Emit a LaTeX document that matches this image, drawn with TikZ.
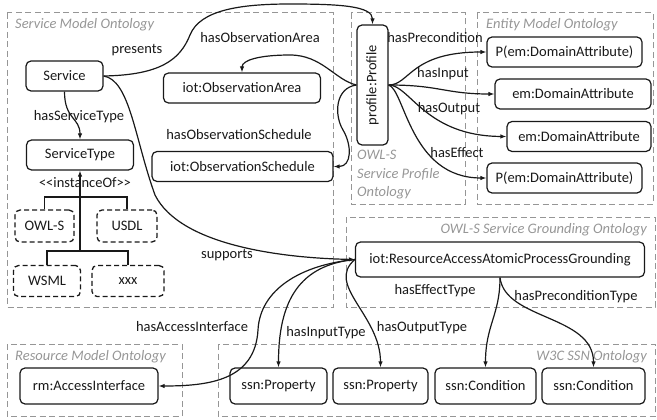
\documentclass[tikz,border=0pt]{standalone}
\usepackage{fontspec}
\setmainfont{Carlito}
\usetikzlibrary{arrows.meta}
\definecolor{groupgray}{RGB}{150,150,150}
\definecolor{ink}{RGB}{25,25,25}
\begin{document}
\begin{tikzpicture}[x=1pt,y=-1pt,
  font=\fontsize{14.5}{17}\selectfont, text=ink,
  box/.style={draw=ink, line width=1.2pt, rounded corners=5pt, inner sep=0pt, minimum height=30},
  dbox/.style={box, dashed, dash pattern=on 5pt off 3pt, line width=1.3pt},
  group/.style={draw=groupgray, line width=1pt, dash pattern=on 6pt off 3.5pt},
  gtitle/.style={text=groupgray, font=\fontsize{14.5}{17}\selectfont\itshape, inner sep=0pt},
  lbl/.style={inner sep=0pt},
  rel/.style={draw=ink, line width=1.2pt, -{Latex[length=6pt,width=4.5pt]}},
  tree/.style={draw=ink, line width=1.2pt}]
\useasboundingbox (0,0) rectangle (657,420);

% ontology groups
\draw[group] (7,13) rectangle (333,307);
\draw[group] (351,13) rectangle (465,204);
\draw[group] (477,13) rectangle (653,204);
\draw[group] (346,217) rectangle (655,307);
\draw[group] (7,344) rectangle (182,416);
\draw[group] (218,344) rectangle (655,416);

\node[gtitle, anchor=west] (tsm) at (15,25) {Service Model Ontology};
\node[gtitle, anchor=west] (tem) at (486,25) {Entity Model Ontology};
\node[gtitle, anchor=west] (tsp1) at (357,155) {OWL-S};
\node[gtitle, anchor=west] (tsp2) at (357,174) {Service Profile};
\node[gtitle, anchor=west] (tsp3) at (357,193) {Ontology};
\node[gtitle, anchor=east] (tsg) at (647,230) {OWL-S Service Grounding Ontology};
\node[gtitle, anchor=west] (trm) at (15,357) {Resource Model Ontology};
\node[gtitle, anchor=east] (tssn) at (647,357) {W3C SSN Ontology};

% concepts
\node[box, minimum width=77] (svc) at (64.5,76) {Service};
\node[box, minimum width=107] (stype) at (80,155) {ServiceType};
\node[box, minimum width=157] (oarea) at (242,88) {iot:ObservationArea};
\node[box, minimum width=181] (osched) at (242.5,166.5) {iot:ObservationSchedule};
\node[box, minimum width=31, minimum height=120] (prof) at (372.5,85) {};
\node[rotate=90, inner sep=0pt] (proft) at (prof.center) {profile:Profile};
\node[box, minimum width=155] (p1) at (564.5,52) {P(em:DomainAttribute)};
\node[box, minimum width=156] (da1) at (573,94) {em:DomainAttribute};
\node[box, minimum width=144] (da2) at (579,136.5) {em:DomainAttribute};
\node[box, minimum width=155] (p2) at (564.5,178) {P(em:DomainAttribute)};

\node[dbox, minimum width=59, minimum height=32] (owls) at (44.5,226) {OWL-S};
\node[dbox, minimum width=60, minimum height=32] (usdl) at (127,226) {USDL};
\node[dbox, minimum width=67, minimum height=31] (wsml) at (47,281) {WSML};
\node[dbox, minimum width=72, minimum height=31] (xxx) at (128,281) {xxx};

\node[box, minimum width=289, minimum height=35] (grd) at (500,259.5) {iot:ResourceAccessAtomicProcessGrounding};
\node[box, minimum width=138, minimum height=36] (rm) at (89,386) {rm:AccessInterface};
\node[box, minimum width=97, minimum height=36] (ssn1) at (278.5,386) {ssn:Property};
\node[box, minimum width=95, minimum height=36] (ssn2) at (380.5,386) {ssn:Property};
\node[box, minimum width=101, minimum height=36] (ssn3) at (485.5,386) {ssn:Condition};
\node[box, minimum width=103, minimum height=36] (ssn4) at (593.5,386) {ssn:Condition};

% instanceOf tree
\coordinate (tt) at (80,197);
\coordinate (tb) at (80,251);
\draw[tree] (owls.north) |- (tt) -| (usdl.north);
\draw[tree] (wsml.north) |- (tb) -| (xxx.north);
\draw[rel] (tb) -- (stype.south);
\node[lbl] (linst) at (85,183) {<{}<instanceOf>{}>};

% relations of the service
\draw[rel] (svc.south) .. controls +(0,28) and +(0,-22) .. (stype.north);
\node[lbl] (lst) at (79,117) {hasServiceType};
\draw[rel] (svc.east) .. controls (160,75) and (180,60) .. (190,35)
  .. controls (200,10) and (240,4) .. (290,4)
  .. controls (340,4) and (372.5,6) .. (prof.north);
\node[lbl] (lpr) at (137,50) {presents};
\draw[rel] (svc.east) .. controls (130,80) and (135,140) .. (155,195)
  .. controls (180,245) and (280,258) .. (grd.west);
\node[lbl] (lsu) at (227,255) {supports};

% relations of the profile
\draw[rel] (prof.west) .. controls (335,80) and (322,55) .. (290,55)
  .. controls (260,55) and (242,60) .. (oarea.north);
\node[lbl] (loa) at (260,38) {hasObservationArea};
\draw[rel] (prof.west) .. controls (335,88) and (334,115) .. (343,130)
  .. controls (352,145) and (352,166.5) .. (osched.east);
\node[lbl] (los) at (239,135) {hasObservationSchedule};
\draw[rel] (prof.east) .. controls (410,85) and (410,52) .. (p1.west);
\node[lbl] (lpc) at (435,38) {hasPrecondition};
\draw[rel] (prof.east) .. controls (440,85) and (445,94) .. (da1.west);
\node[lbl] (lin) at (443,74) {hasInput};
\draw[rel] (prof.east) .. controls (410,85) and (425,136) .. (da2.west);
\node[lbl] (lout) at (449,109) {hasOutput};
\draw[rel] (prof.east) .. controls (405,90) and (410,178) .. (p2.west);
\node[lbl] (lef) at (457,153) {hasEffect};

% relations of the grounding
\draw[rel] (grd.west) .. controls (300,265) and (260,290) .. (258,330)
  .. controls (255,380) and (210,386) .. (rm.east);
\node[lbl] (lai) at (192,327) {hasAccessInterface};
\draw[rel] (grd.west) .. controls (300,265) and (278.5,300) .. (ssn1.north);
\node[lbl] (lit) at (326,333) {hasInputType};
\draw[rel] (grd.west) .. controls (325,285) and (380.5,315) .. (ssn2.north);
\node[lbl] (lot) at (422,328) {hasOutputType};
\draw[rel] (grd.south) .. controls (500,315) and (485.5,325) .. (ssn3.north);
\node[lbl] (let) at (435,291) {hasEffectType};
\draw[rel] (grd.south) .. controls (505,320) and (593.5,315) .. (ssn4.north);
\node[lbl] (lpt) at (576,297) {hasPreconditionType};
\end{tikzpicture}
\end{document}
